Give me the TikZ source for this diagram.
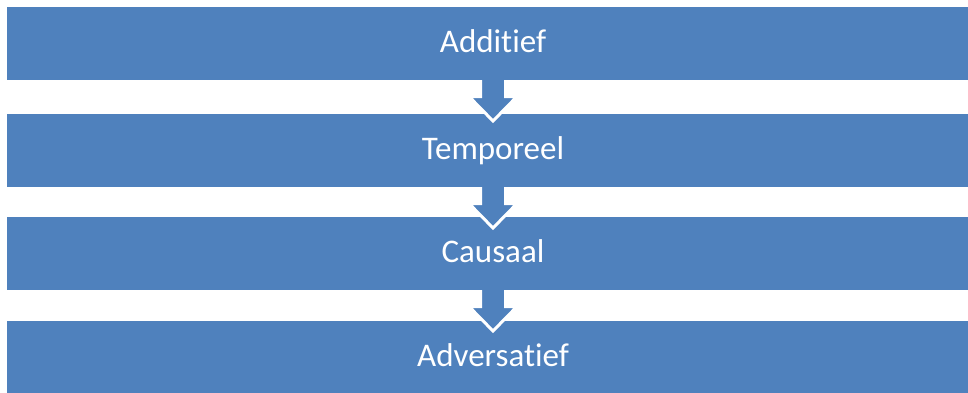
\documentclass[tikz,border=0pt]{standalone}
\usepackage{fontspec}
\setmainfont{Carlito}[Ligatures={CommonOff}]
\usetikzlibrary{calc}
\definecolor{barblue}{HTML}{4F81BD}
\begin{document}
\begin{tikzpicture}[x=1pt,y=-1pt,
  bar/.style={fill=barblue, minimum width=961pt, minimum height=73pt, inner sep=0pt, outer sep=0pt,
    anchor=north west, text=white, font=\fontsize{33}{36}\selectfont, text height=18pt, text depth=0pt},
  arrowfill/.style={fill=barblue},
  arrowedge/.style={draw=white, line width=3pt, line join=miter}
]
\useasboundingbox (0,0) rectangle (968,392);
\node[bar] (b1) at (7,7) {\hspace*{11pt}Additief};
\node[bar] (b2) at (7,114) {\hspace*{11pt}Temporeel};
\node[bar] (b3) at (7,217) {\hspace*{11pt}Causaal};
\node[bar] (b4) at (7,321) {\hspace*{11pt}Adversatief};
\foreach \a in {b1,b2,b3}{
  \coordinate (s) at ($(\a.south west)+(486,0)$);
  \fill[arrowfill] ($(s)+(-12.5,-2)$) -- ($(s)+(-12.5,16.5)$) -- ($(s)+(-24,16.5)$) -- ($(s)+(0,41)$)
     -- ($(s)+(24,16.5)$) -- ($(s)+(12.5,16.5)$) -- ($(s)+(12.5,-2)$) -- cycle;
  \draw[arrowedge] ($(s)+(-12.5,0)$) -- ($(s)+(-12.5,16.5)$) -- ($(s)+(-24,16.5)$) -- ($(s)+(0,41)$)
     -- ($(s)+(24,16.5)$) -- ($(s)+(12.5,16.5)$) -- ($(s)+(12.5,0)$);
}
\end{tikzpicture}
\end{document}
